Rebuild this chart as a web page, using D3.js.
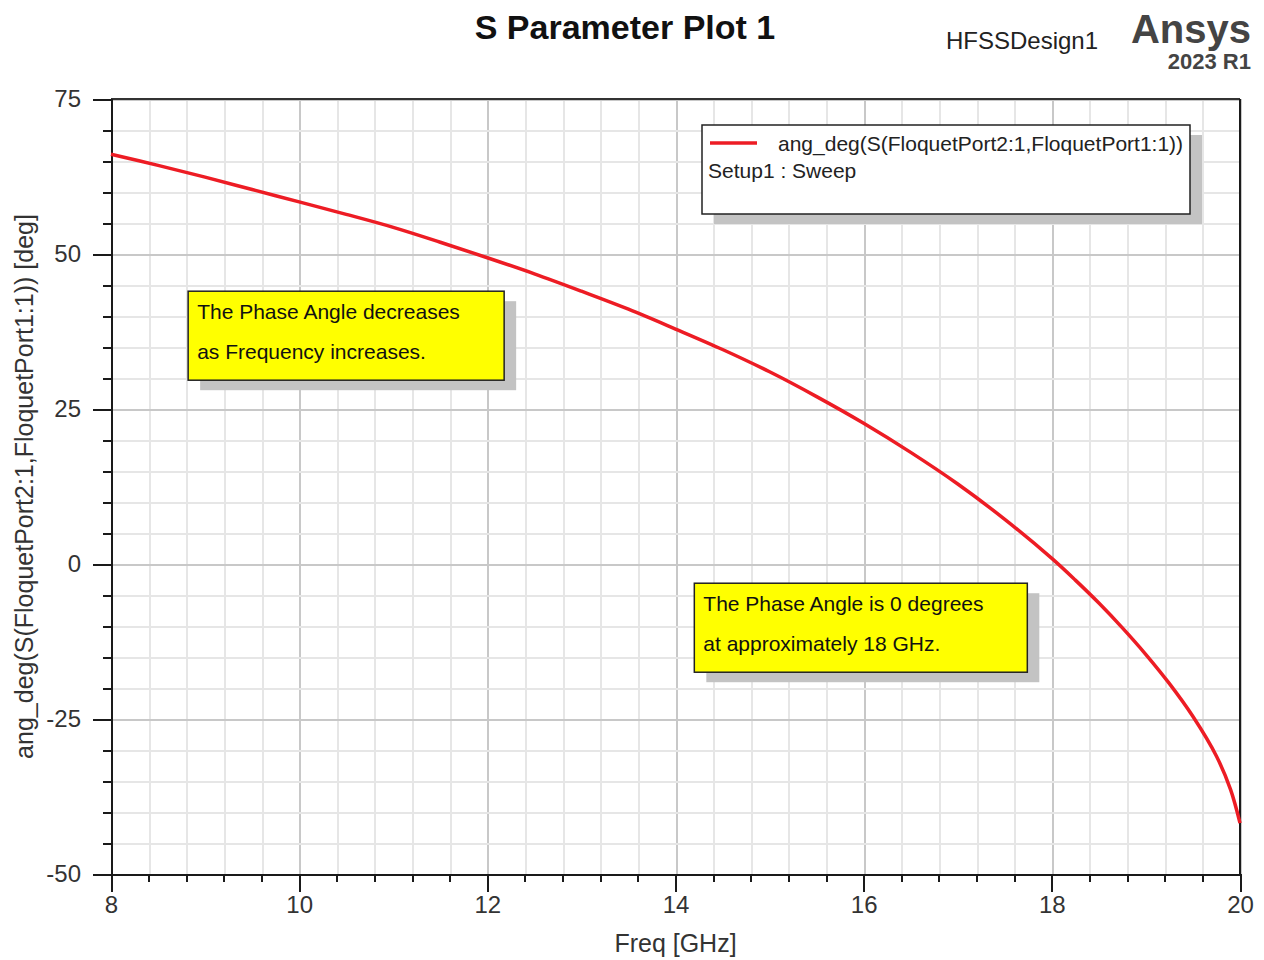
<!DOCTYPE html>
<html>
<head>
<meta charset="UTF-8">
<title>S Parameter Plot 1</title>
<script src="https://cdn.jsdelivr.net/npm/d3@7"></script>
<style>
    body { margin: 0; background: #fff; }
    svg { display: block; font-family: Arial, "Liberation Sans", sans-serif; }
    .grid line { shape-rendering: crispEdges; }
    .axis path, .axis line { stroke: #1a1a1a; stroke-width: 2; shape-rendering: crispEdges; }
    .axis text { fill: #333; font-size: 24px; }
</style>
</head>
<body>
<svg id="chart" width="1264" height="960"></svg>
<script>
// data
var freq = [8, 8.5, 9, 9.5, 10, 10.5, 11, 11.5, 12, 12.5, 13, 13.5, 14, 14.5, 15, 15.5,
            16, 16.5, 17, 17.5, 18, 18.25, 18.5, 18.75, 19, 19.25, 19.5, 19.75, 19.9, 20];
var angDeg = [66.1, 64.3, 62.4, 60.4, 58.4, 56.4, 54.3, 51.9, 49.4, 46.8, 44.0, 41.1, 37.9, 34.6, 31.0, 27.0,
              22.7, 18.0, 12.9, 7.2, 0.9, -2.6, -6.3, -10.3, -14.6, -19.3, -24.6, -31.0, -36.4, -41.8];

var xTicks = [8, 10, 12, 14, 16, 18, 20];
var yTicks = [-50, -25, 0, 25, 50, 75];

var seriesName = "ang_deg(S(FloquetPort2:1,FloquetPort1:1))";
var setupName = "Setup1 : Sweep";
var notes = [
    { x: 8.82, y: 44.0, lines: ["The Phase Angle decreases", "as Frequency increases."] },
    { x: 14.2, y: -3.1, lines: ["The Phase Angle is 0 degrees", "at approximately 18 GHz."] }
];

var svg = d3.select("#chart");
var pLeft = 111, pRight = 1240, pTop = 99, pBottom = 874;

var x = d3.scaleLinear().domain([8, 20]).range([pLeft, pRight]);
var y = d3.scaleLinear().domain([-50, 75]).range([pBottom, pTop]);

// grid - minor then major
var xMinor = d3.range(8, 20.0001, 0.4);
var yMinor = d3.range(-50, 75.0001, 5);

var grid = svg.append("g").attr("class", "grid");
grid.selectAll(".vx").data(xMinor).enter().append("line")
    .attr("x1", d => Math.round(x(d)) + 0.5).attr("x2", d => Math.round(x(d)) + 0.5)
    .attr("y1", pTop).attr("y2", pBottom)
    .attr("stroke", d => Math.abs(d / 2 - Math.round(d / 2)) < 1e-6 ? "#c8c8c8" : "#e6e6e6")
    .attr("stroke-width", 2);
grid.selectAll(".hy").data(yMinor).enter().append("line")
    .attr("y1", d => Math.round(y(d)) + 0.5).attr("y2", d => Math.round(y(d)) + 0.5)
    .attr("x1", pLeft).attr("x2", pRight)
    .attr("stroke", d => d % 25 === 0 ? "#c8c8c8" : "#e6e6e6")
    .attr("stroke-width", 2);

// frame top and right
svg.append("line").attr("x1", pLeft).attr("x2", pRight).attr("y1", pTop).attr("y2", pTop)
    .attr("stroke", "#333").attr("stroke-width", 2);
svg.append("line").attr("x1", pRight).attr("x2", pRight).attr("y1", pTop).attr("y2", pBottom)
    .attr("stroke", "#1a1a1a").attr("stroke-width", 2);

// minor ticks
svg.append("g").attr("class", "axis")
    .attr("transform", "translate(0," + pBottom + ")")
    .call(d3.axisBottom(x).tickValues(xMinor).tickSize(8).tickFormat(""));
svg.append("g").attr("class", "axis")
    .attr("transform", "translate(" + pLeft + ",0)")
    .call(d3.axisLeft(y).tickValues(yMinor).tickSize(8).tickFormat(""));

// major ticks + labels (plain hyphen like the original)
svg.append("g").attr("class", "axis")
    .attr("transform", "translate(0," + pBottom + ")")
    .call(d3.axisBottom(x).tickValues(xTicks).tickSize(18).tickPadding(4).tickFormat(d => String(d)));
svg.append("g").attr("class", "axis")
    .attr("transform", "translate(" + pLeft + ",0)")
    .call(d3.axisLeft(y).tickValues(yTicks).tickSize(18).tickPadding(12).tickFormat(d => String(d)));

// curve
var line = d3.line().x(d => x(d[0])).y(d => y(d[1])).curve(d3.curveCatmullRom.alpha(0.5));
svg.append("path")
    .datum(d3.zip(freq, angDeg))
    .attr("d", line)
    .attr("fill", "none")
    .attr("stroke", "#ed1c24")
    .attr("stroke-width", 3.5);

// annotation boxes
notes.forEach(function (n) {
    var bx = x(n.x), by = y(n.y), bw = n.lines[0].length > 26 ? 333 : 316, bh = 89;
    var g = svg.append("g");
    g.append("rect").attr("x", bx + 12).attr("y", by + 10).attr("width", bw).attr("height", bh).attr("fill", "#c3c3c3");
    g.append("rect").attr("x", bx).attr("y", by).attr("width", bw).attr("height", bh)
        .attr("fill", "#ffff00").attr("stroke", "#222").attr("stroke-width", 1.5);
    n.lines.forEach(function (t, i) {
        g.append("text").attr("x", bx + 9).attr("y", by + 28 + i * 40)
            .attr("font-size", 21).attr("fill", "#111").text(t);
    });
});

// legend
var lg = svg.append("g");
lg.append("rect").attr("x", 714).attr("y", 135).attr("width", 488).attr("height", 89).attr("fill", "#c3c3c3");
lg.append("rect").attr("x", 702).attr("y", 125).attr("width", 488).attr("height", 89)
    .attr("fill", "#fff").attr("stroke", "#222").attr("stroke-width", 1.5);
lg.append("line").attr("x1", 710).attr("x2", 757).attr("y1", 143).attr("y2", 143)
    .attr("stroke", "#ed1c24").attr("stroke-width", 3.5);
lg.append("text").attr("x", 778).attr("y", 151).attr("font-size", 21).attr("fill", "#222").text(seriesName);
lg.append("text").attr("x", 708).attr("y", 178).attr("font-size", 21).attr("fill", "#222").text(setupName);

// titles
svg.append("text").attr("x", 625).attr("y", 39).attr("text-anchor", "middle")
    .attr("font-size", 34).attr("font-weight", "bold").attr("fill", "#111").text("S Parameter Plot 1");
svg.append("text").attr("x", 1098).attr("y", 49).attr("text-anchor", "end")
    .attr("font-size", 24).attr("fill", "#222").text("HFSSDesign1");
svg.append("text").attr("x", 1251).attr("y", 43).attr("text-anchor", "end")
    .attr("font-size", 40).attr("font-weight", "bold").attr("fill", "#444").text("Ansys");
svg.append("text").attr("x", 1251).attr("y", 69).attr("text-anchor", "end")
    .attr("font-size", 22).attr("font-weight", "bold").attr("fill", "#444").text("2023 R1");

// axis titles
svg.append("text").attr("x", (pLeft + pRight) / 2).attr("y", 952).attr("text-anchor", "middle")
    .attr("font-size", 25).attr("fill", "#333").text("Freq [GHz]");
svg.append("text").attr("transform", "translate(33," + (pTop + pBottom) / 2 + ") rotate(-90)")
    .attr("text-anchor", "middle").attr("font-size", 25).attr("fill", "#333")
    .text(seriesName + " [deg]");
</script>
</body>
</html>
